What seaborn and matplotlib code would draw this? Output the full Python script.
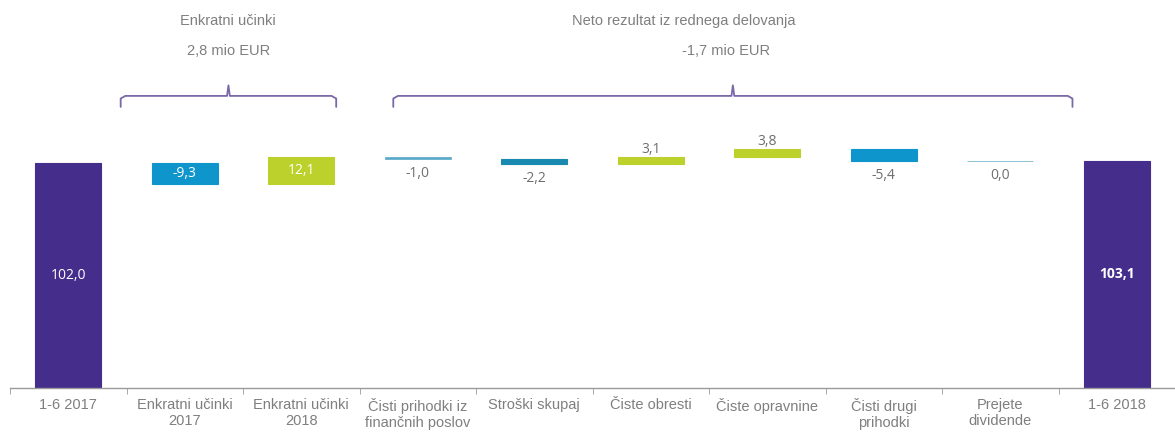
import numpy as np
import pandas as pd
import matplotlib.pyplot as plt
import seaborn as sns

# Waterfall data (mio EUR)
categories = ["1-6 2017", "Enkratni učinki\n2017", "Enkratni učinki\n2018",
              "Čisti prihodki iz\nfinančnih poslov", "Stroški skupaj",
              "Čiste obresti", "Čiste opravnine", "Čisti drugi\nprihodki",
              "Prejete\ndividende", "1-6 2018"]
start_value = 102.0
deltas = [-9.3, 12.1, -1.0, -2.2, 3.1, 3.8, -5.4, 0.0]
end_value = 103.1
labels = ["102,0", "-9,3", "12,1", "-1,0", "-2,2", "3,1", "3,8", "-5,4", "0,0", "103,1"]
colors = ["#452d8c", "#0e96cc", "#bcd12b", "#5aa9c9", "#1a89b0",
          "#bcd12b", "#bcd12b", "#0e96cc", "#5aa9c9", "#452d8c"]
label_pos = ["in", "in", "in", "below", "below", "above", "above", "below", "below", "in"]

groups = [("Enkratni učinki", "2,8 mio EUR", 1, 2),
          ("Neto rezultat iz rednega delovanja", "-1,7 mio EUR", 3, 8)]

# running totals -> bottoms / heights
running = start_value + np.cumsum([0] + deltas)
bottoms = [0.0]
heights = [start_value]
for i, d in enumerate(deltas):
    bottoms.append(min(running[i], running[i + 1]))
    heights.append(abs(d))
bottoms.append(0.0)
heights.append(end_value)

df = pd.DataFrame({"cat": categories, "h": heights})

sns.set_style("white")
plt.rcParams["font.family"] = ["Liberation Sans", "DejaVu Sans"]
fig = plt.figure(figsize=(11.75, 4.32), dpi=100)
ax = fig.add_axes([10 / 1175, 44 / 432, 1165 / 1175, 388 / 432])

sns.barplot(data=df, x="cat", y="h", hue="cat", palette=colors, legend=False,
            width=0.57, ax=ax, saturation=1)
for patch, b, c, h in zip(ax.patches, bottoms, colors, heights):
    patch.set_y(b)
    patch.set_edgecolor(c)
    patch.set_linewidth(0.8 if h > 1.0 else 0.5)

# value labels
for i, (b, h, lab, pos) in enumerate(zip(bottoms, heights, labels, label_pos)):
    if pos == "in":
        weight = "bold" if i == len(labels) - 1 else "normal"
        ax.text(i, b + h / 2, lab, ha="center", va="center", color="white",
                fontsize=10, fontweight=weight, family=["Open Sans", "DejaVu Sans"])
    elif pos == "above":
        ax.annotate(lab, (i, b + h), xytext=(0, 0), textcoords="offset points",
                    ha="center", va="bottom", color="#6e6e6e", fontsize=10,
                    family=["Open Sans", "DejaVu Sans"])
    else:
        ax.annotate(lab, (i, b), xytext=(0, -5), textcoords="offset points",
                    ha="center", va="top", color="#6e6e6e", fontsize=10,
                    family=["Open Sans", "DejaVu Sans"])


def brace(ax, x0, x1, y, h=5, bump=4.8, color="#7a68a8"):
    r = 0.04
    t = np.linspace(0, np.pi / 2, 10)
    xc = (x0 + x1) / 2
    xs = np.concatenate([[x0], x0 + r * (1 - np.cos(t)), [xc - 0.012, xc, xc + 0.012],
                         x1 - r * (1 - np.cos(t[::-1])), [x1]])
    ys = np.concatenate([[y - h], y - 1.2 * np.cos(t), [y, y + bump, y],
                         y - 1.2 * np.cos(t[::-1]), [y - h]])
    ax.plot(xs, ys, color=color, lw=1.3, solid_capstyle="round", clip_on=False)


brace(ax, 0.45, 2.3, 132.5)
brace(ax, 2.79, 8.62, 132.5)
ax.text(1.37, 166.5, groups[0][0], ha="center", va="center", color="#7f7f7f", fontsize=10.5)
ax.text(1.38, 153, groups[0][1], ha="center", va="center", color="#7f7f7f", fontsize=10.5)
ax.text(5.28, 166.5, groups[1][0], ha="center", va="center", color="#7f7f7f", fontsize=10.5)
ax.text(5.65, 153, groups[1][1], ha="center", va="center", color="#7f7f7f", fontsize=10.5)

ax.set_xlim(-0.5, 9.5)
ax.set_ylim(0, 176)
ax.set_xlabel("")
ax.set_ylabel("")
ax.set_yticks([])
sns.despine(ax=ax, left=True)
ax.spines["bottom"].set_color("#9a9a9a")
ax.spines["bottom"].set_linewidth(1)
ax.set_xticks(np.arange(-0.5, 10, 1), minor=True)
ax.tick_params(axis="x", which="major", length=0, pad=7, labelsize=10.5, labelcolor="#7f7f7f")
ax.tick_params(axis="x", which="minor", length=4, color="#9a9a9a", bottom=True)

plt.savefig("out.png", dpi=100)
